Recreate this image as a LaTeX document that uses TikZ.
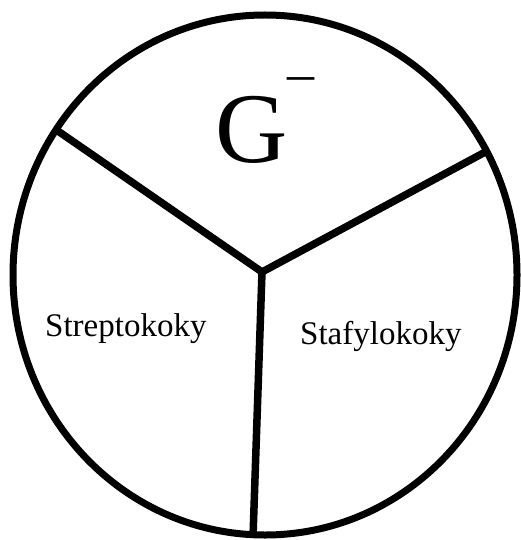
\documentclass[tikz,border=0pt]{standalone}
\usepackage{fontspec}
\setmainfont{Liberation Serif}
\usetikzlibrary{calc,positioning}

\begin{document}
\begin{tikzpicture}[x=1pt,y=-1pt,wall/.style={line width=7.5pt},lbl/.style={anchor=base west,inner sep=0pt,font=\fontsize{33}{33}\selectfont}]
\useasboundingbox (0,0) rectangle (521,540);
\draw[wall,line width=7pt] (265,275) ellipse [x radius=252,y radius=260];
\coordinate (hub) at (262,272);
\coordinate (nw) at (55,129);
\coordinate (ne) at (489,150);
\coordinate (s) at (253,537);
\draw[wall,line join=miter] (nw) -- (hub) -- (ne);
\draw[wall] (hub) -- (s);
\node[anchor=base west,inner sep=0pt,font=\fontsize{100}{100}\selectfont] (gneg) at (215,163) {G\raisebox{71pt}{\fontsize{54}{54}\selectfont –}};
\node[lbl] (strep) at (45,336) {Streptokoky};
\node[lbl] (staf) at (300,344) {Stafylokoky};
\end{tikzpicture}
\end{document}
